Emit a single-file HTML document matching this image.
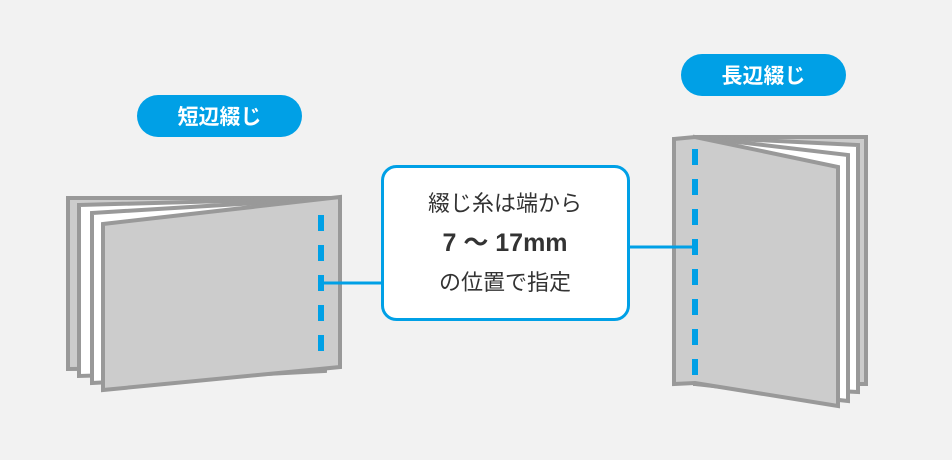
<!DOCTYPE html>
<html><head><meta charset="utf-8"><style>
html,body{margin:0;padding:0;background:#f2f2f2;}
svg{display:block}
</style></head><body>
<svg width="952" height="460" viewBox="0 0 952 460" xmlns="http://www.w3.org/2000/svg">
<rect width="952" height="460" fill="#f2f2f2"/>
<g stroke="#999" stroke-width="4" stroke-linejoin="miter">
<polygon points="68,198 338,198 325,367 68,369" fill="#ccc"/>
<polygon points="79,205 338,198 325,369 79,376" fill="#fff"/>
<polygon points="92,213 338,198 325,371 92,383" fill="#fff"/>
<polygon points="103,224 340,197 340,367 103,390" fill="#ccc"/>
<polygon points="695,137 866,137 866,384 695,384" fill="#ccc"/>
<polygon points="695,137 858,145 858,392 695,384" fill="#fff"/>
<polygon points="695,137 848,155 848,401 695,384" fill="#fff"/>
<polygon points="674,139 695,137 838,167 838,406 695,383 674,384" fill="#ccc"/>
</g>
<g fill="#00a0e6">
<rect x="318" y="215" width="6" height="16"/><rect x="318" y="245" width="6" height="16"/><rect x="318" y="275" width="6" height="16"/><rect x="318" y="305" width="6" height="16"/><rect x="318" y="335" width="6" height="16"/>
<rect x="692" y="149" width="6" height="16"/><rect x="692" y="179" width="6" height="16"/><rect x="692" y="209" width="6" height="16"/><rect x="692" y="239" width="6" height="16"/><rect x="692" y="269" width="6" height="16"/><rect x="692" y="299" width="6" height="16"/><rect x="692" y="329" width="6" height="16"/><rect x="692" y="359" width="6" height="16"/>
</g>
<line x1="321" y1="283" x2="383" y2="283" stroke="#00a0e6" stroke-width="3"/>
<line x1="628" y1="247" x2="695" y2="247" stroke="#00a0e6" stroke-width="3"/>
<rect x="382.5" y="166.5" width="246" height="153" rx="14" fill="#fff" stroke="#00a0e6" stroke-width="3"/>
<g font-family="Liberation Sans, Noto Sans CJK JP, sans-serif" fill="#333" text-anchor="middle">
<text x="505" y="211" font-size="22">綴じ糸は端から</text>
<text x="505" y="251" font-size="25" font-weight="bold">7 ～ 17mm</text>
<text x="505" y="290" font-size="22">の位置で指定</text>
</g>
<rect x="137" y="95" width="165" height="42" rx="21" fill="#00a0e6"/>
<rect x="681" y="54" width="165" height="42" rx="21" fill="#00a0e6"/>
<g font-family="Liberation Sans, Noto Sans CJK JP, sans-serif" fill="#fff" font-weight="bold" font-size="21" text-anchor="middle">
<text x="219.5" y="124">短辺綴じ</text>
<text x="763.5" y="83">長辺綴じ</text>
</g>
</svg>
</body></html>
